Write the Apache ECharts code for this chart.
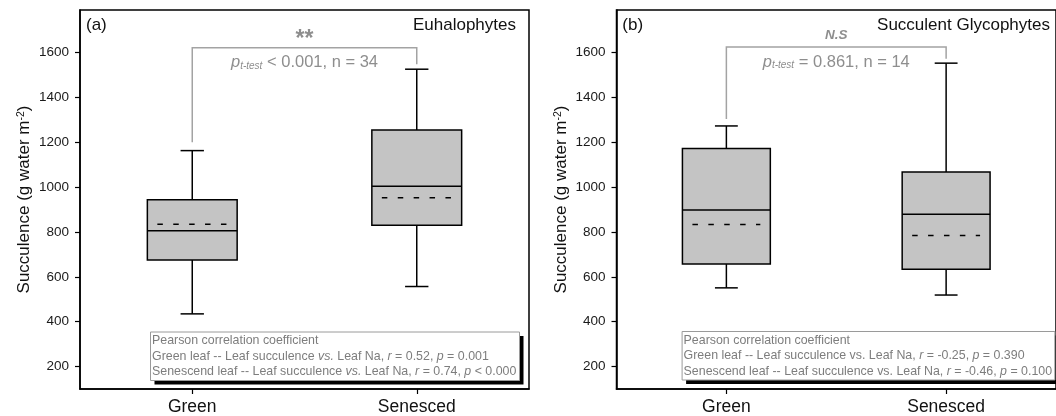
<!DOCTYPE html>
<html>
<head>
<meta charset="utf-8">
<script src="https://cdn.jsdelivr.net/npm/echarts@6/dist/echarts.min.js"></script>
<style>
  html, body { margin: 0; padding: 0; background: #fff; }
  #chart { width: 1056px; height: 416px; }
</style>
</head>
<body>
<div id="chart"></div>
<script>
// ---------------- data ----------------
const categories = ['Green', 'Senesced'];
const yTicks = [200, 400, 600, 800, 1000, 1200, 1400, 1600];
const panelLetters = ['(a)', '(b)'];
const panelTitles = ['Euhalophytes', 'Succulent Glycophytes'];
// [min whisker, Q1, median, Q3, max whisker]
const euhaloBox = [[435, 675, 806, 944, 1163], [557, 830, 1004, 1255, 1526]];
const euhaloMean = [835, 953];
const glycoBox = [[551, 657, 898, 1172, 1273], [519, 634, 879, 1068, 1553]];
const glycoMean = [834, 785];
// significance brackets (values on the y scale)
const bracketLevels = [1622, 1625];
const bracketLegEnds = [[1200, 1548], [1304, 1573]];
const sigMarks = ['**', 'N.S'];
const tTestTexts = ['< 0.001, n = 34', '= 0.861, n = 14'];
// Pearson correlation notes
const corrGreen = [['0.52', '= 0.001'], ['-0.25', '= 0.390']];
const corrSenesced = [['0.74', '< 0.000'], ['-0.46', '= 0.100']];
const vsItalic = [true, false];

// ---------------- styling ----------------
const FONT = "'Liberation Sans', Arial, sans-serif";
const BOX_FILL = '#c4c4c4';
const GREY = '#8e8e8e';
const BRACKET = '#a3a3a3';

function boxData(box, mean) {
  return box.map((b, i) => [i, b[0], b[1], b[2], b[3], b[4], mean[i]]);
}

function renderBox(params, api) {
  const i = api.value(0);
  const band = api.size([1, 0])[0];
  const half = band * 0.2;
  const capHalf = band * 0.052;
  const x = api.coord([i, 0])[0];
  const y = v => api.coord([i, v])[1];
  const yMin = y(api.value(1)), yQ1 = y(api.value(2)), yMed = y(api.value(3));
  const yQ3 = y(api.value(4)), yMax = y(api.value(5)), yMean = y(api.value(6));
  const ls = { stroke: '#000', lineWidth: 1.5 };
  return {
    type: 'group',
    children: [
      { type: 'line', shape: { x1: x, y1: yQ3, x2: x, y2: yMax }, style: ls },
      { type: 'line', shape: { x1: x, y1: yQ1, x2: x, y2: yMin }, style: ls },
      { type: 'line', shape: { x1: x - capHalf, y1: yMax, x2: x + capHalf, y2: yMax }, style: ls },
      { type: 'line', shape: { x1: x - capHalf, y1: yMin, x2: x + capHalf, y2: yMin }, style: ls },
      { type: 'rect', shape: { x: x - half, y: yQ3, width: 2 * half, height: yQ1 - yQ3 },
        style: { fill: BOX_FILL, stroke: '#000', lineWidth: 1.5 } },
      { type: 'line', shape: { x1: x - half, y1: yMed, x2: x + half, y2: yMed }, style: ls },
      { type: 'line', shape: { x1: x - half + 10, y1: yMean, x2: x + half - 10, y2: yMean },
        style: { stroke: '#000', lineWidth: 1.5, lineDash: [5.5, 10.4] } }
    ]
  };
}

function makeBracketRenderer(p) {
  return function (params, api) {
    const x0 = api.coord([0, 0])[0];
    const x1 = api.coord([1, 0])[0];
    const yL = api.coord([0, bracketLevels[p]])[1];
    const yA = api.coord([0, bracketLegEnds[p][0]])[1];
    const yB = api.coord([1, bracketLegEnds[p][1]])[1];
    const xm = (x0 + x1) / 2;
    const sigStyle = p === 0
      ? { fontSize: 23, fontWeight: 'bold', fontStyle: 'normal' }
      : { fontSize: 13.5, fontWeight: 'bold', fontStyle: 'italic' };
    return {
      type: 'group',
      children: [
        { type: 'polyline', shape: { points: [[x0, yA], [x0, yL], [x1, yL], [x1, yB]] },
          style: { stroke: BRACKET, lineWidth: 1.5, fill: null } },
        { type: 'text', style: Object.assign({
            text: sigMarks[p], x: xm, y: yL - (p === 0 ? 8 : 12),
            align: 'center', verticalAlign: 'middle', fill: GREY, fontFamily: FONT
          }, sigStyle) },
        { type: 'text', style: {
            text: '{i|p}{sub|t-test} ' + tTestTexts[p], x: xm, y: yL + 15,
            align: 'center', verticalAlign: 'middle', fill: GREY,
            fontFamily: FONT, fontSize: 16.5,
            rich: {
              i: { fontStyle: 'italic', fontSize: 16.5, fontFamily: FONT, fill: GREY },
              sub: { fontStyle: 'italic', fontSize: 10, fontFamily: FONT, fill: GREY,
                     verticalAlign: 'bottom' }
            }
          } }
      ]
    };
  };
}

function yAxisFor(gi) {
  return {
    type: 'value', gridIndex: gi, min: 100, max: 1790,
    name: 'Succulence (g water m{sup|-2})',
    nameLocation: 'middle', nameGap: 47, nameRotate: 90,
    nameTextStyle: {
      fontSize: 17, fontFamily: FONT, color: '#111',
      rich: { sup: { fontSize: 10.5, fontFamily: FONT, color: '#111', verticalAlign: 'top' } }
    },
    axisLine: { show: true, lineStyle: { color: '#000', width: 1.5 } },
    axisTick: { show: true, inside: false, length: 5, customValues: yTicks,
                lineStyle: { color: '#000', width: 1.2 } },
    axisLabel: { customValues: yTicks, fontSize: 13.5, fontFamily: FONT, color: '#1a1a1a', margin: 11,
                 formatter: v => String(v) },
    splitLine: { show: false }
  };
}
function xAxisFor(gi) {
  return {
    type: 'category', gridIndex: gi, data: categories, boundaryGap: true,
    axisLine: { show: true, lineStyle: { color: '#000', width: 1.5 } },
    axisTick: { show: true, alignWithLabel: true, length: 5, lineStyle: { color: '#000', width: 1.2 } },
    axisLabel: { fontSize: 17.5, fontFamily: FONT, color: '#111', margin: 9 },
    splitLine: { show: false }
  };
}

function legendGraphic(p, left, top, width) {
  const vs = vsItalic[p] ? '{i|vs.}' : 'vs.';
  const text = [
    'Pearson correlation coefficient',
    'Green leaf -- Leaf succulence ' + vs + ' Leaf Na, {i|r} = ' + corrGreen[p][0] + ', {i|p} ' + corrGreen[p][1],
    'Senescend leaf -- Leaf succulence ' + vs + ' Leaf Na, {i|r} = ' + corrSenesced[p][0] + ', {i|p} ' + corrSenesced[p][1]
  ].join('\n');
  return [
    { type: 'rect', left: left + 4.5, top: top + 4.5, z: 50,
      shape: { width: width, height: 48.5 }, style: { fill: '#000' } },
    { type: 'rect', left: left, top: top, z: 51,
      shape: { width: width, height: 48.5 }, style: { fill: '#fff', stroke: '#9a9a9a', lineWidth: 1 } },
    { type: 'text', left: left + 2, top: top + 1.5, z: 52,
      style: { text: text, fill: '#7d7d7d', fontSize: 12.4, fontFamily: FONT, lineHeight: 15.6,
               rich: { i: { fontStyle: 'italic', fontSize: 12.4, fontFamily: FONT, fill: '#7d7d7d', lineHeight: 15.6 } } } }
  ];
}

const chart = echarts.init(document.getElementById('chart'), null, { renderer: 'canvas' });
chart.setOption({
  animation: false,
  backgroundColor: '#fff',
  grid: [
    { left: 80, right: 527, top: 10, bottom: 25.3, show: true, borderColor: '#000', borderWidth: 1.5, backgroundColor: 'transparent' },
    { left: 616.5, right: -8.5, top: 10, bottom: 25.3, show: true, borderColor: '#000', borderWidth: 1.5, backgroundColor: 'transparent' }
  ],
  xAxis: [xAxisFor(0), xAxisFor(1)],
  yAxis: [yAxisFor(0), yAxisFor(1)],
  series: [
    { type: 'custom', xAxisIndex: 0, yAxisIndex: 0, data: boxData(euhaloBox, euhaloMean), renderItem: renderBox, z: 5 },
    { type: 'custom', xAxisIndex: 1, yAxisIndex: 1, data: boxData(glycoBox, glycoMean), renderItem: renderBox, z: 5 },
    { type: 'custom', xAxisIndex: 0, yAxisIndex: 0, data: [[0, bracketLevels[0]]], renderItem: makeBracketRenderer(0), z: 6 },
    { type: 'custom', xAxisIndex: 1, yAxisIndex: 1, data: [[0, bracketLevels[1]]], renderItem: makeBracketRenderer(1), z: 6 }
  ],
  graphic: [
    { type: 'text', left: 86, top: 17, style: { text: panelLetters[0], fontSize: 17, fontFamily: FONT, fill: '#111' } },
    { type: 'text', right: 1056 - 516, top: 17, style: { text: panelTitles[0], fontSize: 17, fontFamily: FONT, fill: '#111' } },
    { type: 'text', left: 622.3, top: 17, style: { text: panelLetters[1], fontSize: 17, fontFamily: FONT, fill: '#111' } },
    { type: 'text', right: 1056 - 1050, top: 17, style: { text: panelTitles[1], fontSize: 17, fontFamily: FONT, fill: '#111' } }
  ].concat(legendGraphic(0, 150, 331.5, 369)).concat(legendGraphic(1, 681.6, 331, 372.8))
});
</script>
</body>
</html>
